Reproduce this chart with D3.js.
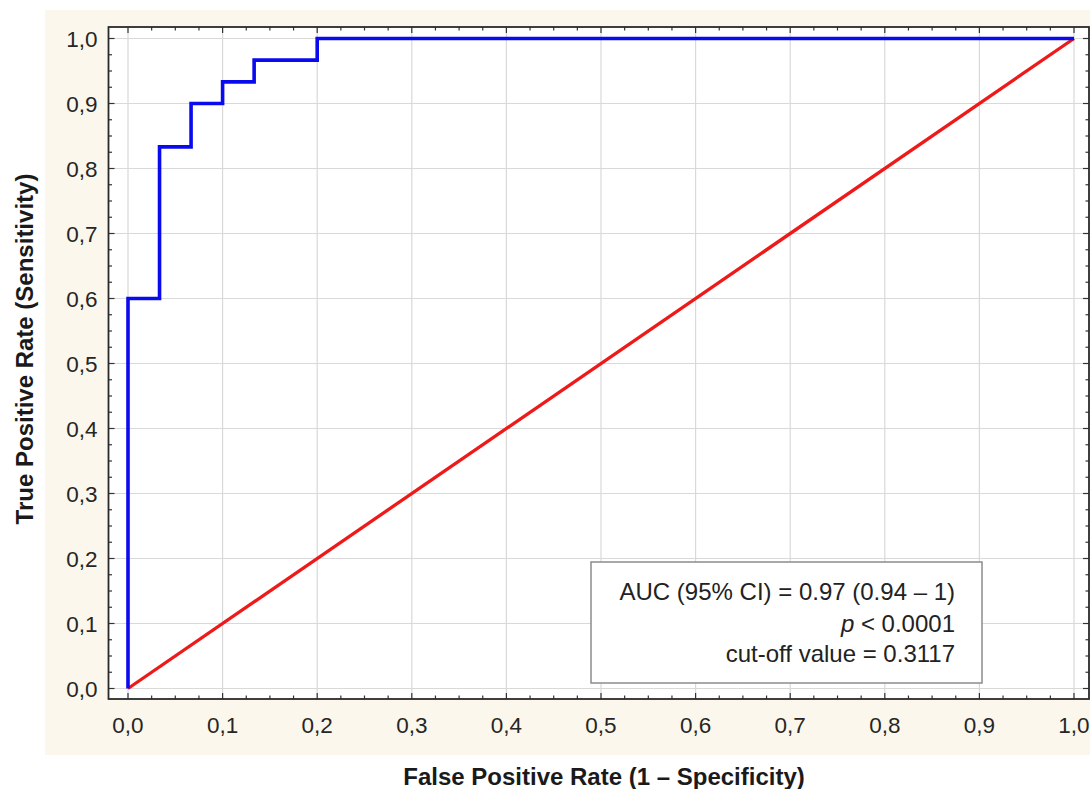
<!DOCTYPE html>
<html>
<head>
<meta charset="utf-8">
<script src="https://cdn.jsdelivr.net/npm/d3@7/dist/d3.min.js"></script>
<style>
  html, body { margin: 0; padding: 0; background: #ffffff; }
  svg { display: block; }
</style>
</head>
<body>
<svg id="chart" width="1090" height="789"></svg>
<script>
// ROC curve: false positive rate vs true positive rate (30 positives, 30 negatives)
const rocFPR = [0, 0, 1/30, 1/30, 2/30, 2/30, 3/30, 3/30, 4/30, 4/30, 6/30, 6/30, 1];
const rocTPR = [0, 18/30, 18/30, 25/30, 25/30, 27/30, 27/30, 28/30, 28/30, 29/30, 29/30, 1, 1];

// Chance (reference) line
const refX = [0, 1];
const refY = [0, 1];

// Axis ticks and labels
const majorTicks = [0, 0.1, 0.2, 0.3, 0.4, 0.5, 0.6, 0.7, 0.8, 0.9, 1.0];
const minorTicks = d3.range(0, 41).map(i => i / 40);
const tickLabels = ["0,0", "0,1", "0,2", "0,3", "0,4", "0,5", "0,6", "0,7", "0,8", "0,9", "1,0"];

const xTitle = "False Positive Rate (1 \u2013 Specificity)";
const yTitle = "True Positive Rate (Sensitivity)";

const statLines = ["AUC (95% CI) = 0.97 (0.94 \u2013 1)", "p< 0.0001", "cut-off value = 0.3117"];

const svg = d3.select("#chart");
const FONT = "'Liberation Sans', Arial, sans-serif";

// Scales
const x = d3.scaleLinear().domain([0, 1]).range([128, 1074]);
const y = d3.scaleLinear().domain([0, 1]).range([688.5, 38.5]);

// Plot frame (slightly padded around the unit square)
const frame = { left: x(0) - 19.5, right: x(1) + 15, top: y(1) - 11.5, bottom: y(0) + 10.5 };

// Cream panel behind the chart
svg.append("rect")
  .attr("x", 45).attr("y", 10)
  .attr("width", 1045).attr("height", 745)
  .attr("fill", "#fcf7ec");

// White plotting area
svg.append("rect")
  .attr("x", frame.left).attr("y", frame.top)
  .attr("width", frame.right - frame.left).attr("height", frame.bottom - frame.top)
  .attr("fill", "#ffffff");

// Grid lines
const grid = svg.append("g").attr("stroke", "#d9d9d9").attr("stroke-width", 1.2);
grid.selectAll("line.v").data(majorTicks).join("line")
  .attr("class", "v")
  .attr("x1", d => x(d)).attr("x2", d => x(d))
  .attr("y1", frame.top).attr("y2", frame.bottom);
grid.selectAll("line.h").data(majorTicks).join("line")
  .attr("class", "h")
  .attr("y1", d => y(d)).attr("y2", d => y(d))
  .attr("x1", frame.left).attr("x2", frame.right);

// Inward tick marks on all four sides
const ticks = svg.append("g").attr("stroke", "#333").attr("stroke-width", 1.2);
const isMajor = d => Math.abs(d * 10 - Math.round(d * 10)) < 1e-6;
const tlen = d => isMajor(d) ? 6 : 3.5;
ticks.selectAll("line.b").data(minorTicks).join("line").attr("class", "b")
  .attr("x1", d => x(d)).attr("x2", d => x(d))
  .attr("y1", frame.bottom).attr("y2", d => frame.bottom - tlen(d));
ticks.selectAll("line.t").data(minorTicks).join("line").attr("class", "t")
  .attr("x1", d => x(d)).attr("x2", d => x(d))
  .attr("y1", frame.top).attr("y2", d => frame.top + tlen(d));
ticks.selectAll("line.l").data(minorTicks).join("line").attr("class", "l")
  .attr("y1", d => y(d)).attr("y2", d => y(d))
  .attr("x1", frame.left).attr("x2", d => frame.left + tlen(d));
ticks.selectAll("line.r").data(minorTicks).join("line").attr("class", "r")
  .attr("y1", d => y(d)).attr("y2", d => y(d))
  .attr("x1", frame.right).attr("x2", d => frame.right - tlen(d));

// Frame
svg.append("rect")
  .attr("x", frame.left).attr("y", frame.top)
  .attr("width", frame.right - frame.left).attr("height", frame.bottom - frame.top)
  .attr("fill", "none").attr("stroke", "#2a2a2a").attr("stroke-width", 1.8);

// Tick labels
svg.append("g").selectAll("text").data(majorTicks).join("text")
  .attr("x", d => x(d)).attr("y", frame.bottom + 34)
  .attr("text-anchor", "middle")
  .attr("font-family", FONT).attr("font-size", 22.5).attr("fill", "#262626")
  .text((d, i) => tickLabels[i]);
svg.append("g").selectAll("text").data(majorTicks).join("text")
  .attr("x", frame.left - 11).attr("y", d => y(d) + 8)
  .attr("text-anchor", "end")
  .attr("font-family", FONT).attr("font-size", 22.5).attr("fill", "#262626")
  .text((d, i) => tickLabels[i]);

// Axis titles
svg.append("text")
  .attr("x", 604).attr("y", 785)
  .attr("text-anchor", "middle")
  .attr("font-family", FONT).attr("font-size", 24).attr("font-weight", "bold").attr("fill", "#1a1a1a")
  .text(xTitle);
svg.append("text")
  .attr("transform", "translate(33,349) rotate(-90)")
  .attr("text-anchor", "middle")
  .attr("font-family", FONT).attr("font-size", 24).attr("font-weight", "bold").attr("fill", "#1a1a1a")
  .text(yTitle);

// Chance line
const line = d3.line().x(d => x(d[0])).y(d => y(d[1]));
svg.append("path")
  .datum(d3.zip(refX, refY))
  .attr("d", line)
  .attr("fill", "none").attr("stroke", "#ee1a1a").attr("stroke-width", 3.3);

// ROC step curve
svg.append("path")
  .datum(d3.zip(rocFPR, rocTPR))
  .attr("d", line)
  .attr("fill", "none").attr("stroke", "#0a0aee").attr("stroke-width", 3.6)
  .attr("stroke-linejoin", "miter");

// Statistics box
const box = svg.append("g");
box.append("rect")
  .attr("x", 591).attr("y", 562).attr("width", 391).attr("height", 121)
  .attr("fill", "#ffffff").attr("stroke", "#8c8c8c").attr("stroke-width", 1.5);
const txt = box.append("g")
  .attr("font-family", FONT).attr("font-size", 24).attr("fill", "#222")
  .attr("text-anchor", "end");
txt.append("text").attr("x", 955).attr("y", 600).text(statLines[0]);
const t2 = txt.append("text").attr("x", 955).attr("y", 631.5);
t2.append("tspan").attr("font-style", "italic").text(statLines[1].slice(0, 1));
t2.append("tspan").text(" " + statLines[1].slice(1));
txt.append("text").attr("x", 955).attr("y", 662).text(statLines[2]);
</script>
</body>
</html>
